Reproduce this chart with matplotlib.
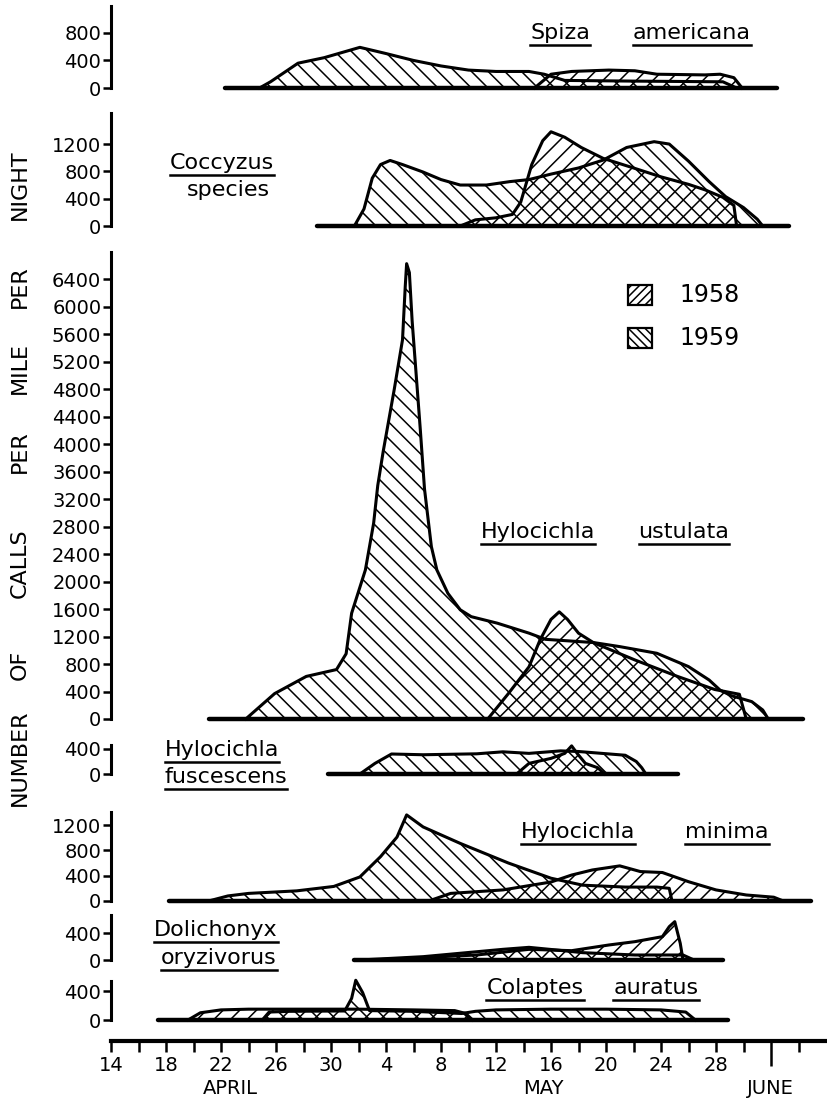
import matplotlib
matplotlib.use('Agg')
import matplotlib.pyplot as plt
from matplotlib.lines import Line2D
from matplotlib.patches import Rectangle

# days counted from April 14 (day 0)

# Spiza americana
spiza_58_day = [30.8, 32.0, 33.5, 36.2, 38.1, 39.7, 43.2, 44.3, 45.3, 45.9]
spiza_58_val = [0, 200, 240, 260, 250, 200, 190, 200, 150, 0]
spiza_59_day = [10.8, 11.6, 13.6, 15.5, 18.1, 20.0, 22.0, 24.0, 26.0, 28.0, 30.4, 31.5, 33.0, 38.0, 44.5, 45.5]
spiza_59_val = [0, 90, 360, 440, 590, 500, 400, 320, 260, 240, 240, 200, 110, 100, 90, 0]

# Coccyzus species
cocc_58_day = [25.4, 26.5, 28.0, 29.2, 29.8, 30.6, 31.4, 32.0, 33.0, 34.2, 35.8, 38.0, 40.0, 42.0, 43.2, 44.5, 45.3, 45.5]
cocc_58_val = [0, 90, 120, 170, 350, 900, 1250, 1380, 1300, 1150, 990, 850, 720, 610, 530, 420, 300, 0]
cocc_59_day = [17.7, 18.4, 19.0, 19.6, 20.3, 21.2, 22.7, 24.0, 25.4, 27.3, 29.0, 30.4, 32.0, 34.0, 35.8,
               37.5, 39.5, 40.6, 42.0, 43.5, 44.7, 46.0, 47.0, 47.4]
cocc_59_val = [0, 250, 700, 900, 960, 900, 790, 680, 600, 600, 650, 680, 760, 850, 966,
               1150, 1235, 1200, 950, 650, 430, 270, 100, 0]

# Hylocichla ustulata
ustu_58_day = [27.4, 28.9, 30.4, 31.2, 32.0, 32.6, 33.2, 34.0, 35.1, 38.1, 41.2, 43.9, 45.7, 46.2]
ustu_58_val = [0, 370, 760, 1150, 1450, 1560, 1450, 1250, 1110, 860, 620, 430, 360, 0]
ustu_59_day = [9.8, 11.9, 14.2, 16.4, 17.1, 17.5, 18.5, 19.1, 19.4, 19.8, 20.6, 21.2, 21.4, 21.5, 21.7,
               21.9, 22.2, 22.5, 22.8, 23.3, 23.7, 24.5, 25.4, 26.2, 28.1, 30.4, 31.6, 35.1, 37.0,
               39.7, 42.0, 43.5, 44.3, 45.1, 46.6, 47.4, 47.8]
ustu_59_val = [0, 370, 620, 720, 950, 1540, 2170, 2850, 3400, 3900, 4800, 5520, 6300, 6630, 6500,
               5800, 5000, 4200, 3350, 2510, 2170, 1830, 1590, 1490, 1395, 1250, 1160, 1113, 1054,
               957, 763, 568, 420, 340, 253, 131, 0]

# Hylocichla fuscescens
fusc_58_day = [29.5, 30.4, 32.0, 33.0, 33.5, 33.9, 34.5, 35.4, 35.9]
fusc_58_val = [0, 170, 250, 330, 450, 330, 170, 100, 0]
fusc_59_day = [18.1, 19.2, 20.4, 22.7, 26.6, 28.5, 30.4, 32.7, 34.0, 37.4, 38.2, 38.6, 38.9]
fusc_59_val = [0, 170, 320, 308, 323, 355, 330, 370, 360, 300, 200, 100, 0]

# Hylocichla minima
mini_58_day = [23.1, 24.7, 28.5, 32.0, 33.5, 35.0, 37.0, 38.5, 40.1, 42.0, 44.0, 46.2, 48.2, 48.9]
mini_58_val = [0, 120, 175, 300, 410, 490, 555, 465, 450, 305, 175, 95, 60, 0]
mini_59_day = [7.1, 8.5, 10.0, 13.5, 16.2, 18.1, 19.6, 20.8, 21.5, 22.7, 25.4, 28.9, 32.0, 34.3, 37.4, 39.7, 40.6, 40.8]
mini_59_val = [0, 80, 120, 160, 230, 380, 700, 1010, 1360, 1170, 910, 600, 360, 250, 220, 220, 200, 0]

# Dolichonyx oryzivorus
doli_58_day = [18.9, 22.0, 26.6, 30.4, 33.5, 36.2, 38.1, 40.1, 40.6, 41.0, 41.4, 41.6]
doli_58_val = [0, 30, 75, 160, 140, 225, 275, 350, 500, 575, 250, 0]
doli_59_day = [18.1, 22.7, 28.5, 30.4, 32.4, 34.3, 38.1, 41.6, 42.4]
doli_59_val = [0, 50, 160, 190, 150, 110, 75, 75, 0]

# Colaptes auratus
cola_58_day = [5.6, 6.5, 8.0, 10.0, 14.0, 18.0, 22.0, 25.0, 25.8, 26.3]
cola_58_val = [0, 100, 140, 150, 150, 150, 140, 130, 90, 0]
cola_59_day = [11.0, 11.5, 13.0, 17.0, 17.5, 17.8, 18.3, 18.8, 22.0, 25.5, 26.5, 28.0, 32.0, 36.0, 40.0, 41.8, 42.5]
cola_59_val = [0, 110, 120, 125, 300, 550, 380, 130, 120, 90, 120, 140, 150, 150, 140, 110, 0]

# bottom axis
label_days = [0, 4, 8, 12, 16, 20, 24, 28, 32, 36, 40, 44]
label_text = ['14', '18', '22', '26', '30', '4', '8', '12', '16', '20', '24', '28']
june_first = 48

W, H = 827, 1100
X0, X1 = 111, 826
DAYS = 52

plt.rcParams['hatch.linewidth'] = 1.1
fig = plt.figure(figsize=(W / 100, H / 100), dpi=100)


def px_axes(top, bottom):
    return fig.add_axes([X0 / W, 1 - bottom / H, (X1 - X0) / W, (bottom - top) / H])


# zero line px, spine top px, value at spine top, ticks, baseline extent, series
panels = [
    (88, 6, 1190, [0, 400, 800], (8.3, 48.4),
     (spiza_58_day, spiza_58_val), (spiza_59_day, spiza_59_val)),
    (226, 113, 1655, [0, 400, 800, 1200], (15.0, 49.3),
     (cocc_58_day, cocc_58_val), (cocc_59_day, cocc_59_val)),
    (719, 252, 6800, list(range(0, 6401, 400)), (7.1, 50.3),
     (ustu_58_day, ustu_58_val), (ustu_59_day, ustu_59_val)),
    (774, 745, 464, [0, 400], (15.8, 41.2),
     (fusc_58_day, fusc_58_val), (fusc_59_day, fusc_59_val)),
    (901, 812, 1406, [0, 400, 800, 1200], (4.2, 50.9),
     (mini_58_day, mini_58_val), (mini_59_day, mini_59_val)),
    (960, 915, 675, [0, 400], (17.7, 44.5),
     (doli_58_day, doli_58_val), (doli_59_day, doli_59_val)),
    (1020, 981, 540, [0, 400], (3.4, 44.9),
     (cola_58_day, cola_58_val), (cola_59_day, cola_59_val)),
]

for zero, top, topval, ticks, base, s58, s59 in panels:
    scale = (zero - top) / topval
    ax = px_axes(top - 14, zero + 6)
    ax.set_xlim(0, DAYS)
    ax.set_ylim(-6 / scale, topval + 14 / scale)
    ax.patch.set_alpha(0)
    for s in ['top', 'right', 'bottom']:
        ax.spines[s].set_visible(False)
    ax.spines['left'].set_bounds(0, topval)
    ax.spines['left'].set_linewidth(2.2)
    ax.set_xticks([])
    ax.set_yticks(ticks)
    ax.tick_params(axis='y', length=6, width=1.8, pad=1, labelsize=14)
    ax.hlines(0, base[0], base[1], color='black', lw=3.2, capstyle='round')
    for (d, v), hatch in [(s58, '//'), (s59, '\\\\')]:
        ax.fill_between(d, v, 0, facecolor='none', edgecolor='black', hatch=hatch, lw=0)
        ax.plot(d, v, color='black', lw=2.2, solid_joinstyle='round', clip_on=False)

# bottom date axis
axx = px_axes(1030, 1041)
axx.set_xlim(0, DAYS)
axx.patch.set_alpha(0)
for s in ['top', 'right', 'left']:
    axx.spines[s].set_visible(False)
axx.spines['bottom'].set_linewidth(3)
axx.set_yticks([])
tick_days = [d for d in range(0, 51, 2) if d != june_first]
tick_labels = [label_text[label_days.index(d)] if d in label_days else '' for d in tick_days]
axx.set_xticks(tick_days, tick_labels)
axx.set_xticks([june_first], minor=True)
axx.tick_params(axis='x', which='major', length=8, width=1.8, labelsize=14, pad=3)
axx.tick_params(axis='x', which='minor', length=18, width=1.8)

for name, xc in [('APRIL', 230), ('MAY', 543), ('JUNE', 770)]:
    fig.text(xc / W, 1 - 1088 / H, name, ha='center', va='center', fontsize=14)

# y label, one word at a time
for word, yc in [('NIGHT', 185), ('PER', 287), ('MILE', 368), ('PER', 452),
                 ('CALLS', 563), ('OF', 665), ('NUMBER', 758)]:
    fig.text(20 / W, 1 - yc / H, word, rotation=90, ha='center', va='center', fontsize=16)

# legend
for lab, hatch, yt in [('1958', '////', 285), ('1959', '\\\\\\\\', 328)]:
    fig.add_artist(Rectangle((628 / W, 1 - (yt + 20) / H), 24 / W, 20 / H,
                             transform=fig.transFigure, facecolor='none',
                             edgecolor='black', hatch=hatch, lw=1.6))
    fig.text(679 / W, 1 - (yt + 10) / H, lab, ha='left', va='center', fontsize=17)

# species names
species = [
    ('Spiza', 560, 33, True), ('americana', 692, 33, True),
    ('Coccyzus', 222, 163, True), ('species', 228, 190, False),
    ('Hylocichla', 538, 532, True), ('ustulata', 684, 532, True),
    ('Hylocichla', 222, 750, True), ('fuscescens', 226, 777, True),
    ('Hylocichla', 578, 832, True), ('minima', 727, 832, True),
    ('Dolichonyx', 216, 930, True), ('oryzivorus', 219, 958, True),
    ('Colaptes', 535, 988, True), ('auratus', 656, 988, True),
]
renderer = fig.canvas.get_renderer()
for word, xc, yc, under in species:
    t = fig.text(xc / W, 1 - yc / H, word, ha='center', va='center', fontsize=16)
    if under:
        bb = t.get_window_extent(renderer)
        yy = 1 - (yc + 12) / H
        fig.add_artist(Line2D([bb.x0 / W, bb.x1 / W], [yy, yy], lw=1.8, color='black'))

fig.savefig('out.png', dpi=100)
